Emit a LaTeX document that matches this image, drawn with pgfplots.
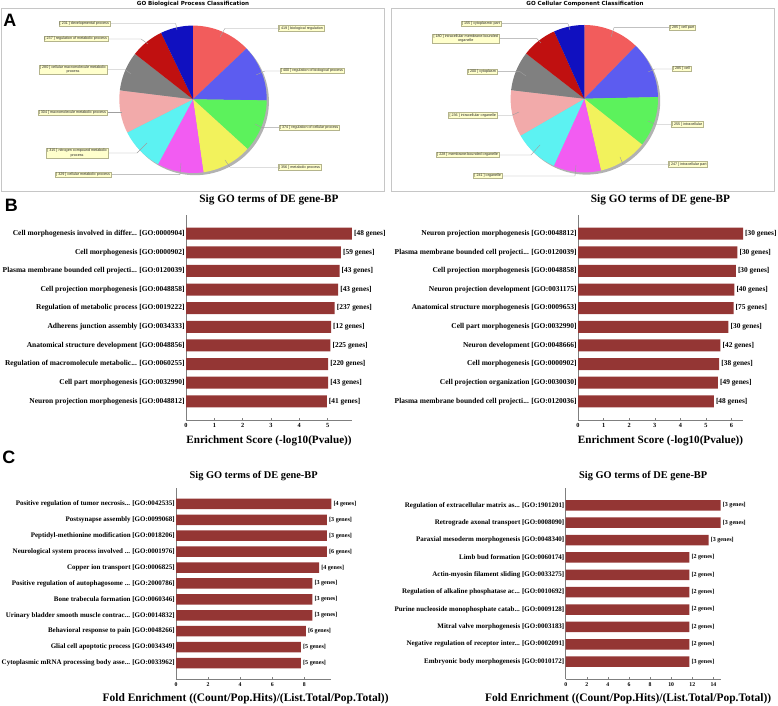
\documentclass[border=0pt]{standalone}
\usepackage{fontspec}
\setmainfont{Liberation Serif}
\newfontfamily\arialf{Liberation Sans}
\newfontfamily\verdf{DejaVu Sans}
\usepackage{pgfplots}
\usepackage{pgfplotstable}
\pgfplotsset{compat=1.18}
\newcommand\ddd{.\kern0pt.\kern0pt.}

\definecolor{barred}{HTML}{943634}
\definecolor{axg}{HTML}{7F7F7F}
\definecolor{pc0}{HTML}{F25C5C}
\definecolor{pc1}{HTML}{5C5CF0}
\definecolor{pc2}{HTML}{5CF25C}
\definecolor{pc3}{HTML}{F2F25C}
\definecolor{pc4}{HTML}{F25CF2}
\definecolor{pc5}{HTML}{5CF2F2}
\definecolor{pc6}{HTML}{F2AAAA}
\definecolor{pc7}{HTML}{808080}
\definecolor{pc8}{HTML}{C01010}
\definecolor{pc9}{HTML}{1010C0}
\definecolor{lblfill}{HTML}{FFFFCC}
\definecolor{lblborder}{HTML}{B4B48C}

% GO Biological Process (clockwise from top)
\pgfplotstableread{
v
419
400
374
356
329
315
304
280
237
231
}\bpdata
% GO Cellular Component (clockwise from top)
\pgfplotstableread{
v
285
285
255
247
241
228
236
200
180
155
}\ccdata

\def\pierad{73.7bp}
\newcommand\drawpie[1]{%
  \pgfmathsetmacro\pietot{0}%
  \pgfplotsforeachungrouped \i in {0,...,9}{%
    \pgfplotstablegetelem{\i}{v}\of#1%
    \pgfmathsetmacro\pietot{\pietot+\pgfplotsretval}}%
  \fill[black!30] (axis cs:0.03,-0.03) circle[radius=\pierad];
  \pgfmathsetmacro\piecur{90}%
  \pgfplotsforeachungrouped \i in {0,...,9}{%
    \pgfplotstablegetelem{\i}{v}\of#1%
    \pgfmathsetmacro\piefrac{\pgfplotsretval/\pietot}%
    \pgfmathsetmacro\pienext{\piecur-360*\piefrac}%
    \edef\piecmd{\noexpand\fill[pc\i] (axis cs:0,0) -- (axis cs:{cos(\piecur)},{sin(\piecur)}) arc[start angle=\piecur, end angle=\pienext, radius=\pierad] -- cycle;}%
    \piecmd
    \global\let\piecur\pienext}%
}

\pgfplotsset{
  pieax/.style={hide axis, anchor=center, clip=false,
    x=73.7bp, y=73.7bp, xmin=-1, xmax=1, ymin=-1, ymax=1},
  gobar/.style={
    xbar, scale only axis, anchor=south west, clip=false,
    axis x line*=bottom, axis y line*=left,
    axis line style={draw=axg, line width=0.5bp},
    xtick style={draw=axg, line width=0.5bp},
    ytick style={draw=none},
    tick align=inside, major tick length=2bp,
    xmin=0,
    /pgf/number format/assume math mode=true,
    point meta=explicit symbolic,
    nodes near coords={\relax[\pgfplotspointmeta\ genes]},
    every node near coord/.append style={text=black, anchor=west, inner sep=2bp},
    title style={anchor=base, at={(0.5,1)}},
    xlabel style={anchor=base, at={(0.5,0)}},
  },
  bstyle/.style={
    bar width=12bp, width=#1, height=205bp,
    ymin=-1, ymax=10, ytick={0,...,9},
    yticklabel style={font=\bfseries\fontsize{7.5}{8}\selectfont, inner sep=1.2bp},
    xticklabel style={font=\bfseries\fontsize{6.3}{7}\selectfont},
    every node near coord/.append style={font=\bfseries\fontsize{7.4}{8}\selectfont},
    title={Sig GO terms of DE gene-BP},
    title style={font=\bfseries\fontsize{11.3}{12}\selectfont, yshift=6.5bp},
    xlabel={Enrichment Score (-log10(Pvalue))},
    xlabel style={font=\bfseries\fontsize{11.2}{12}\selectfont, yshift=-23.5bp},
  },
  cstyle/.style={
    bar width=10.5bp, width=#1, height=191bp,
    yticklabel style={font=\bfseries\fontsize{7}{7}\selectfont, inner sep=1.2bp},
    xticklabel style={font=\bfseries\fontsize{5.8}{6}\selectfont},
    every node near coord/.append style={font=\bfseries\fontsize{6.1}{6}\selectfont},
    title={Sig GO terms of DE gene-BP},
    title style={font=\bfseries\fontsize{10.4}{11}\selectfont, yshift=3.8bp},
    xlabel={Fold Enrichment ((Count/Pop.Hits)/(List.Total/Pop.Total))},
    xlabel style={font=\bfseries\fontsize{11.5}{13}\selectfont, yshift=-22.5bp},
  },
  gb/.style={fill=barred, draw=none},
}

\tikzset{
  lbl/.style={draw=lblborder, fill=lblfill, line width=0.4bp,
    font=\arialf\fontsize{3.7}{4.2}\selectfont, inner sep=0.9bp, align=center, text=black!85},
  lead/.style={draw=gray!75, line width=0.4bp},
}

\begin{document}
\begin{tikzpicture}
\useasboundingbox (0,0) rectangle (778bp,706bp);

% ---------- Panel A : pies ----------
\begin{axis}[pieax, at={(193bp,606.7bp)}]
  \drawpie{\bpdata}
\end{axis}
\begin{axis}[pieax, at={(584.3bp,607.3bp)}]
  \drawpie{\ccdata}
\end{axis}

\begin{scope}[shift={(0bp,706bp)}, x=1bp, y=-1bp]
  \draw[gray!45, line width=0.5bp] (1.7,8.3) rectangle (384,191.5);
  \draw[gray!45, line width=0.5bp] (391.7,8.3) rectangle (774,191.5);
  \node[font=\verdf\bfseries\fontsize{5.6}{6}\selectfont] at (193,3.6) {GO Biological Process Classification};
  \node[font=\verdf\bfseries\fontsize{5.6}{6}\selectfont] at (585,3.6) {GO Cellular Component Classification};
  \node[font=\arialf\bfseries\fontsize{18}{20}\selectfont] at (9.8,20.5) {A};
  \node[font=\arialf\bfseries\fontsize{18}{20}\selectfont] at (11.3,205.5) {B};
  \node[font=\arialf\bfseries\fontsize{18}{20}\selectfont] at (8.8,457.5) {C};

  % left pie labels
  \draw[lead] (110,23.5) -- (175.7,23.5) -- (177,30);
  \node[lbl, anchor=east] at (110,23.5) {[ 231 ] developmental process};
  \draw[lead] (108,39) -- (141,39) -- (148,44);
  \node[lbl, anchor=east] at (108,39) {[ 237 ] regulation of metabolic process};
  \draw[lead] (107,69.5) -- (125,69.5) -- (131,74);
  \node[lbl, anchor=east] at (107,69.5) {[ 280 ] cellular macromolecule metabolic\\process};
  \draw[lead] (107,112.7) -- (122,112.7);
  \node[lbl, anchor=east] at (107,112.7) {[ 304 ] macromolecule metabolic process};
  \draw[lead] (108,153) -- (137,153) -- (147,143);
  \node[lbl, anchor=east] at (108,153) {[ 315 ] nitrogen compound metabolic\\process};
  \draw[lead] (111,174.7) -- (180,174.7) -- (181,163);
  \node[lbl, anchor=east] at (111,174.7) {[ 329 ] cellular metabolic process};
  \draw[lead] (278,28.3) -- (225,28.3) -- (220,37);
  \node[lbl, anchor=west] at (278,28.3) {[ 419 ] biological regulation};
  \draw[lead] (280,71) -- (265,71) -- (256,75);
  \node[lbl, anchor=west] at (280,71) {[ 400 ] regulation of biological process};
  \draw[lead] (279,127.7) -- (262,127.7) -- (255,124);
  \node[lbl, anchor=west] at (279,127.7) {[ 374 ] regulation of cellular process};
  \draw[lead] (278,167.3) -- (230,167.3) -- (225,160);
  \node[lbl, anchor=west] at (278,167.3) {[ 356 ] metabolic process};

  % right pie labels
  \draw[lead] (501,23.7) -- (568,23.7) -- (570,30);
  \node[lbl, anchor=east] at (501,23.7) {[ 155 ] cytoplasmic part};
  \draw[lead] (499,38.7) -- (537,38.7) -- (541,43);
  \node[lbl, anchor=east] at (499,38.7) {[ 180 ] intracellular membrane-bounded\\organelle};
  \draw[lead] (497,71.7) -- (520,71.7) -- (526,76);
  \node[lbl, anchor=east] at (497,71.7) {[ 200 ] cytoplasm};
  \draw[lead] (497,115.3) -- (512,115.3) -- (519,112);
  \node[lbl, anchor=east] at (497,115.3) {[ 236 ] intracellular organelle};
  \draw[lead] (499,155) -- (531,155) -- (540,145);
  \node[lbl, anchor=east] at (499,155) {[ 228 ] membrane-bounded organelle};
  \draw[lead] (502,176) -- (575,176) -- (576,165);
  \node[lbl, anchor=east] at (502,176) {[ 241 ] organelle};
  \draw[lead] (669,27.7) -- (614,27.7) -- (611,37);
  \node[lbl, anchor=west] at (669,27.7) {[ 285 ] cell part};
  \draw[lead] (672,69) -- (655,69) -- (648,72);
  \node[lbl, anchor=west] at (672,69) {[ 285 ] cell};
  \draw[lead] (671,124.3) -- (655,124.3) -- (648,121);
  \node[lbl, anchor=west] at (671,124.3) {[ 255 ] intracellular};
  \draw[lead] (668,164.3) -- (623,164.3) -- (620,157);
  \node[lbl, anchor=west] at (668,164.3) {[ 247 ] intracellular part};
\end{scope}

% ---------- Panel B ----------
\begin{axis}[gobar, bstyle=166bp, at={(186bp,286bp)},
  xmax=5.86, xtick={0,...,5},
  yticklabels={
    {Neuron projection morphogenesis [GO:0048812]},
    {Cell part morphogenesis [GO:0032990]},
    {Regulation of macromolecule metabolic\ddd{} [GO:0060255]},
    {Anatomical structure development [GO:0048856]},
    {Adherens junction assembly [GO:0034333]},
    {Regulation of metabolic process [GO:0019222]},
    {Cell projection morphogenesis [GO:0048858]},
    {Plasma membrane bounded cell projecti\ddd{} [GO:0120039]},
    {Cell morphogenesis [GO:0000902]},
    {Cell morphogenesis involved in differ\ddd{} [GO:0000904]}}]
\addplot[gb] coordinates {(4.97,0) [41] (5.02,1) [43] (5.02,2) [220] (5.10,3) [225]
  (5.12,4) [12] (5.25,5) [237] (5.37,6) [43] (5.42,7) [43] (5.47,8) [59] (5.86,9) [48]};
\end{axis}

\begin{axis}[gobar, bstyle=165bp, at={(578bp,286bp)},
  xmax=6.45, xtick={0,...,6},
  yticklabels={
    {Plasma membrane bounded cell projecti\ddd{} [GO:0120036]},
    {Cell projection organization [GO:0030030]},
    {Cell morphogenesis [GO:0000902]},
    {Neuron development [GO:0048666]},
    {Cell part morphogenesis [GO:0032990]},
    {Anatomical structure morphogenesis [GO:0009653]},
    {Neuron projection development [GO:0031175]},
    {Cell projection morphogenesis [GO:0048858]},
    {Plasma membrane bounded cell projecti\ddd{} [GO:0120039]},
    {Neuron projection morphogenesis [GO:0048812]}}]
\addplot[gb] coordinates {(5.31,0) [48] (5.47,1) [49] (5.52,2) [38] (5.57,3) [42]
  (5.88,4) [30] (6.08,5) [75] (6.11,6) [40] (6.17,7) [30] (6.23,8) [30] (6.45,9) [30]};
\end{axis}

% ---------- Panel C ----------
\begin{axis}[gobar, cstyle=155.3bp, at={(176bp,27bp)},
  xlabel style={xshift=-8bp},
  xmax=9.68, xtick={0,2,4,6,8},
  ymin=-1, ymax=11, ytick={0,1,2,3,4,5,6,7,8,9,10},
  yticklabels={
    {Cytoplasmic mRNA processing body asse\ddd{} [GO:0033962]},
    {Glial cell apoptotic process [GO:0034349]},
    {Behavioral response to pain [GO:0048266]},
    {Urinary bladder smooth muscle contrac\ddd{} [GO:0014832]},
    {Bone trabecula formation [GO:0060346]},
    {Positive regulation of autophagosome \ddd{} [GO:2000786]},
    {Copper ion transport [GO:0006825]},
    {Neurological system process involved \ddd{} [GO:0001976]},
    {Peptidyl-methionine modification [GO:0018206]},
    {Postsynapse assembly [GO:0099068]},
    {Positive regulation of tumor necrosis\ddd{} [GO:0042535]}}]
\addplot[gb] coordinates {(7.79,0) [5] (7.79,1) [5] (8.10,2) [6] (8.50,3) [3] (8.50,4) [3]
  (8.50,5) [3] (8.92,6) [4] (9.41,7) [6] (9.41,8) [3] (9.41,9) [3] (9.68,10) [4]};
\end{axis}

\begin{axis}[gobar, cstyle=155bp, at={(565.7bp,27bp)},
  xlabel style={xshift=-15bp},
  xmax=14.69, xtick={0,2,4,6,8,10,12,14},
  ymin=-1, ymax=10, ytick={0,1,2,3,4,5,6,7,8,9},
  yticklabels={
    {Embryonic body morphogenesis [GO:0010172]},
    {Negative regulation of receptor inter\ddd{} [GO:0002091]},
    {Mitral valve morphogenesis [GO:0003183]},
    {Purine nucleoside monophosphate catab\ddd{} [GO:0009128]},
    {Regulation of alkaline phosphatase ac\ddd{} [GO:0010692]},
    {Actin-myosin filament sliding [GO:0033275]},
    {Limb bud formation [GO:0060174]},
    {Paraxial mesoderm morphogenesis [GO:0048340]},
    {Retrograde axonal transport [GO:0008090]},
    {Regulation of extracellular matrix as\ddd{} [GO:1901201]}}]
\addplot[gb] coordinates {(11.72,0) [3] (11.72,1) [2] (11.72,2) [2] (11.72,3) [2] (11.72,4) [2]
  (11.72,5) [2] (11.72,6) [2] (13.55,7) [3] (14.69,8) [3] (14.69,9) [3]};
\end{axis}
\end{tikzpicture}
\end{document}
